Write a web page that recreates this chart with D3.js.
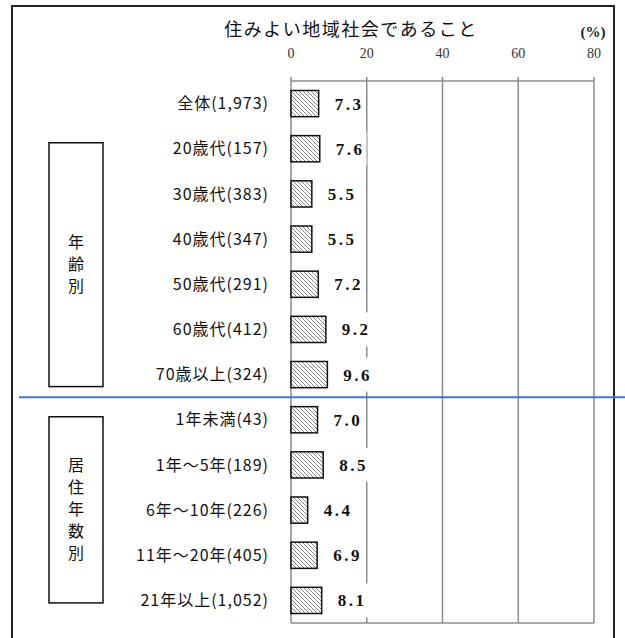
<!DOCTYPE html>
<html lang="ja">
<head>
<meta charset="UTF-8" />
<title>住みよい地域社会であること</title>
<script src="https://d3js.org/d3.v7.min.js"></script>
<style>
  body { margin: 0; background: #fff; }
  svg { display: block; }
  .cat { font-family: "Noto Sans CJK JP", sans-serif; font-size: 16px; fill: #111; letter-spacing: 1px; }
  .val { font-family: "Liberation Serif", "DejaVu Serif", serif; font-size: 17px; font-weight: bold; fill: #111; letter-spacing: 2.5px; }
  .tick-label { font-family: "Liberation Serif", serif; font-size: 14px; fill: #333; }
  .grp { font-family: "Noto Sans CJK JP", sans-serif; font-size: 16px; fill: #111; }
</style>
</head>
<body>
<svg id="chart" width="625" height="638"></svg>
<script>
const categories = ["全体(1,973)", "20歳代(157)", "30歳代(383)", "40歳代(347)", "50歳代(291)",
  "60歳代(412)", "70歳以上(324)", "1年未満(43)", "1年～5年(189)", "6年～10年(226)",
  "11年～20年(405)", "21年以上(1,052)"];
const values = [7.3, 7.6, 5.5, 5.5, 7.2, 9.2, 9.6, 7.0, 8.5, 4.4, 6.9, 8.1];
const ticks = [0, 20, 40, 60, 80];
const groups = [
  { label: "年齢別", first: 1, last: 6 },
  { label: "居住年数別", first: 7, last: 11 }
];
const title = "住みよい地域社会であること";

// box insets relative to the first / last row centres (hand drawn in the original)
const boxInset = [[-6, 12], [-3, 2.5]];

const svg = d3.select("#chart");
const plotL = 291, plotR = 594, plotT = 81, plotB = 623;

const x = d3.scaleLinear().domain([0, 80]).range([plotL, plotR]);
const y = d3.scaleBand().domain(categories).range([plotT, plotB]).paddingInner(0.42).paddingOuter(0.21);
const cy = d => y(d) + y.bandwidth() / 2;

// hatch pattern
const defs = svg.append("defs");
const pat = defs.append("pattern")
  .attr("id", "hatch")
  .attr("patternUnits", "userSpaceOnUse")
  .attr("width", 4).attr("height", 4);
pat.append("rect").attr("width", 4).attr("height", 4).attr("fill", "#fff");
pat.append("path")
  .attr("d", "M0,0 L4,4 M-1,3 L1,5 M3,-1 L5,1")
  .attr("stroke", "#8a8a8a").attr("stroke-width", 1);

// outer frame
svg.append("path")
  .attr("d", "M12,640 V6 H614 V640")
  .attr("fill", "none").attr("stroke", "#222").attr("stroke-width", 2);

// title
svg.append("text")
  .attr("class", "cat")
  .attr("x", 351).attr("y", 36)
  .attr("text-anchor", "middle")
  .style("font-size", "18px")
  .style("letter-spacing", "1.5px")
  .text(title);

svg.append("text")
  .attr("x", 593).attr("y", 37)
  .attr("text-anchor", "middle")
  .style("font-family", "Liberation Serif, serif")
  .style("font-size", "15px")
  .style("font-weight", "bold")
  .attr("fill", "#222")
  .text("(%)");

// grid
const g = svg.append("g");
g.selectAll("line.grid")
  .data(ticks)
  .enter().append("line")
  .attr("x1", d => x(d)).attr("x2", d => x(d))
  .attr("y1", plotT - 4).attr("y2", plotB)
  .attr("stroke", "#8c8c8c").attr("stroke-width", 1.5);
g.append("line")
  .attr("x1", plotL).attr("x2", plotR).attr("y1", plotT).attr("y2", plotT)
  .attr("stroke", "#8c8c8c").attr("stroke-width", 1.5);
g.append("line")
  .attr("x1", plotL).attr("x2", plotR).attr("y1", plotB).attr("y2", plotB)
  .attr("stroke", "#8c8c8c").attr("stroke-width", 1.5);

g.selectAll("text.tick-label")
  .data(ticks)
  .enter().append("text")
  .attr("class", "tick-label")
  .attr("x", d => x(d)).attr("y", 58)
  .attr("text-anchor", "middle")
  .text(d => d);

// bars
svg.selectAll("rect.bar")
  .data(values)
  .enter().append("rect")
  .attr("x", x(0))
  .attr("y", (d, i) => y(categories[i]))
  .attr("width", d => x(d) - x(0))
  .attr("height", y.bandwidth())
  .attr("fill", "url(#hatch)")
  .attr("stroke", "#111").attr("stroke-width", 1.5);

// value labels with white backing
const vl = svg.selectAll("g.val")
  .data(values)
  .enter().append("g")
  .attr("transform", (d, i) => `translate(${x(d) + 16},${cy(categories[i])})`);
vl.append("text")
  .attr("class", "val")
  .attr("dy", "0.35em")
  .text(d => d.toFixed(1));
vl.each(function() {
  const t = d3.select(this).select("text");
  const b = t.node().getBBox();
  d3.select(this).insert("rect", "text")
    .attr("x", b.x - 4).attr("y", -17)
    .attr("width", b.width + 6).attr("height", 34)
    .attr("fill", "#fff");
});

// category labels
svg.selectAll("text.cat-label")
  .data(categories)
  .enter().append("text")
  .attr("class", "cat")
  .attr("x", 269)
  .attr("y", d => cy(d))
  .attr("dy", "0.35em")
  .attr("text-anchor", "end")
  .text(d => d);

// group boxes
const gb = svg.selectAll("g.grp")
  .data(groups)
  .enter().append("g");
gb.append("rect")
  .attr("x", 49)
  .attr("y", (d, i) => cy(categories[d.first]) + boxInset[i][0])
  .attr("width", 54)
  .attr("height", (d, i) => cy(categories[d.last]) + boxInset[i][1] - cy(categories[d.first]) - boxInset[i][0])
  .attr("fill", "#fff").attr("stroke", "#111").attr("stroke-width", 1.5);
gb.each(function(d, gi) {
  const chars = Array.from(d.label);
  const mid = (cy(categories[d.first]) + boxInset[gi][0] + cy(categories[d.last]) + boxInset[gi][1]) / 2;
  const step = 22;
  d3.select(this).selectAll("text")
    .data(chars)
    .enter().append("text")
    .attr("class", "grp")
    .attr("x", 76)
    .attr("y", (c, i) => mid + (i - (chars.length - 1) / 2) * step)
    .attr("dy", "0.35em")
    .attr("text-anchor", "middle")
    .text(c => c);
});

// divider between groups
const divY = (y(categories[6]) + y.bandwidth() + y(categories[7])) / 2;
svg.append("line")
  .attr("x1", 19).attr("x2", 625)
  .attr("y1", divY).attr("y2", divY)
  .attr("stroke", "#4472c4").attr("stroke-width", 2);
</script>
</body>
</html>
